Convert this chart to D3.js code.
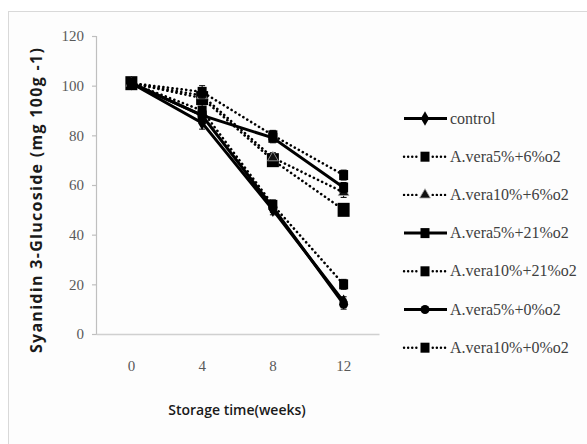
<!DOCTYPE html>
<html>
<head>
<meta charset="utf-8">
<script src="https://cdn.jsdelivr.net/npm/d3@7"></script>
<style>
  body { margin: 0; background: #fff; }
  svg { display: block; }
</style>
</head>
<body>
<svg width="587" height="444"></svg>
<script>
// weeks on the x axis
const weeks = ["0", "4", "8", "12"];
const yTicks = [0, 20, 40, 60, 80, 100, 120];

// series
const seriesNames = [
  "control",
  "A.vera5%+6%o2",
  "A.vera10%+6%o2",
  "A.vera5%+21%o2",
  "A.vera10%+21%o2",
  "A.vera5%+0%o2",
  "A.vera10%+0%o2",
];
const control = [101, 85, 50, 13];
const av5o6 = [101, 95, 70, 50];
const av10o6 = [101, 96, 71, 57];
const av5o21 = [101, 88, 79, 59];
const av10o21 = [101, 97.5, 80, 64];
const av5o0 = [101, 88, 51, 12];
const av10o0 = [101, 90, 52, 20];
const errors = [2, 2.5, 2, 2];

const seriesValues = [control, av5o6, av10o6, av5o21, av10o21, av5o0, av10o0];
const dotted = [false, true, true, false, true, false, true];
const markers = ["diamond", "bigsquare", "triangle", "square", "square", "circle", "square"];

const svg = d3.select("svg");
const serif = "'Liberation Serif', 'Times New Roman', 'DejaVu Serif', serif";

// chart frame
svg.append("rect")
  .attr("x", 8.5).attr("y", 11.5)
  .attr("width", 620).attr("height", 460)
  .attr("fill", "#fdfdfd")
  .attr("stroke", "#d9d9d9");

const x = d3.scaleBand().domain(weeks).range([96, 379]);
const y = d3.scaleLinear().domain([0, 120]).range([334, 36]);
const cx = (w) => x(w) + x.bandwidth() / 2;

// y axis
const yAxis = svg.append("g")
  .attr("transform", "translate(96,0)")
  .call(d3.axisLeft(y).tickValues(yTicks).tickSize(4).tickPadding(8));
yAxis.select(".domain").attr("stroke", "#bfbfbf").attr("stroke-width", 1.2);
yAxis.selectAll(".tick line").attr("stroke", "#bfbfbf").attr("stroke-width", 1.2);
yAxis.selectAll("text")
  .attr("fill", "#595959")
  .attr("font-family", serif)
  .attr("font-size", 15);

// x axis
const xAxis = svg.append("g")
  .attr("transform", "translate(0,334)")
  .call(d3.axisBottom(x).tickSize(0).tickPadding(26));
xAxis.select(".domain").attr("stroke", "#d0d0d0").attr("stroke-width", 1.5);
xAxis.selectAll("text")
  .attr("fill", "#595959")
  .attr("font-family", serif)
  .attr("font-size", 15);

// axis titles
svg.append("text")
  .attr("transform", "translate(42,200) rotate(-90)")
  .attr("text-anchor", "middle")
  .attr("fill", "#1a1a1a")
  .attr("font-family", "'Open Sans', sans-serif")
  .attr("font-weight", "bold")
  .attr("font-size", 16)
  .style("letter-spacing", "1.3px")
  .text("Syanidin 3-Glucoside  (mg  100g -1)");

svg.append("text")
  .attr("x", 237).attr("y", 415)
  .attr("text-anchor", "middle")
  .attr("fill", "#1a1a1a")
  .attr("font-family", "'Open Sans', sans-serif")
  .attr("font-weight", 600)
  .attr("font-size", 14)
  .text("Storage time(weeks)");

function drawMarker(g, type, px, py) {
  if (type === "diamond") {
    g.append("path")
      .attr("d", d3.symbol(d3.symbolDiamond, 60)())
      .attr("transform", `translate(${px},${py})`)
      .attr("fill", "#000");
  } else if (type === "bigsquare") {
    g.append("rect")
      .attr("x", px - 6).attr("y", py - 7)
      .attr("width", 12).attr("height", 14)
      .attr("fill", "#000");
  } else if (type === "square") {
    g.append("rect")
      .attr("x", px - 4.5).attr("y", py - 5)
      .attr("width", 9).attr("height", 10)
      .attr("fill", "#000");
  } else if (type === "triangle") {
    g.append("path")
      .attr("d", d3.symbol(d3.symbolTriangle, 50)())
      .attr("transform", `translate(${px},${py})`)
      .attr("fill", "#111")
      .attr("stroke", "#aaa")
      .attr("stroke-width", 0.8);
  } else if (type === "circle") {
    g.append("circle")
      .attr("cx", px).attr("cy", py).attr("r", 4.5)
      .attr("fill", "#000");
  }
}

const line = d3.line()
  .x((d, i) => cx(weeks[i]))
  .y((d) => y(d));

const plot = svg.append("g");

seriesValues.forEach((vals, s) => {
  const g = plot.append("g");
  g.append("path")
    .datum(vals)
    .attr("d", line)
    .attr("fill", "none")
    .attr("stroke", "#000")
    .attr("stroke-width", dotted[s] ? 2.6 : 3)
    .attr("stroke-linecap", dotted[s] ? "round" : "butt")
    .attr("stroke-dasharray", dotted[s] ? "0.1,4.5" : null);

  vals.forEach((v, i) => {
    const px = cx(weeks[i]);
    const e = errors[i];
    g.append("path")
      .attr("d", `M${px},${y(v + e)}V${y(v - e)}M${px - 3},${y(v + e)}H${px + 3}M${px - 3},${y(v - e)}H${px + 3}`)
      .attr("stroke", "#000")
      .attr("stroke-width", 1);
    drawMarker(g, markers[s], px, y(v));
  });
});

// legend
const legend = svg.append("g");
seriesNames.forEach((name, s) => {
  const ly = 118.5 + s * 38.2;
  const g = legend.append("g");
  g.append("line")
    .attr("x1", 404).attr("x2", 447)
    .attr("y1", ly).attr("y2", ly)
    .attr("stroke", "#000")
    .attr("stroke-width", dotted[s] ? 2.4 : 3)
    .attr("stroke-linecap", dotted[s] ? "round" : "butt")
    .attr("stroke-dasharray", dotted[s] ? "0.1,4" : null);
  const m = markers[s] === "bigsquare" ? "square" : markers[s];
  if (dotted[s]) {
    g.append("rect").attr("x", 419).attr("y", ly - 7).attr("width", 12).attr("height", 14).attr("fill", "#fdfdfd");
  }
  drawMarker(g, m, 425, ly);
  g.append("text")
    .attr("x", 450).attr("y", ly + 5)
    .attr("fill", "#404040")
    .attr("font-family", serif)
    .attr("font-size", 16)
    .text(name);
});
</script>
</body>
</html>
